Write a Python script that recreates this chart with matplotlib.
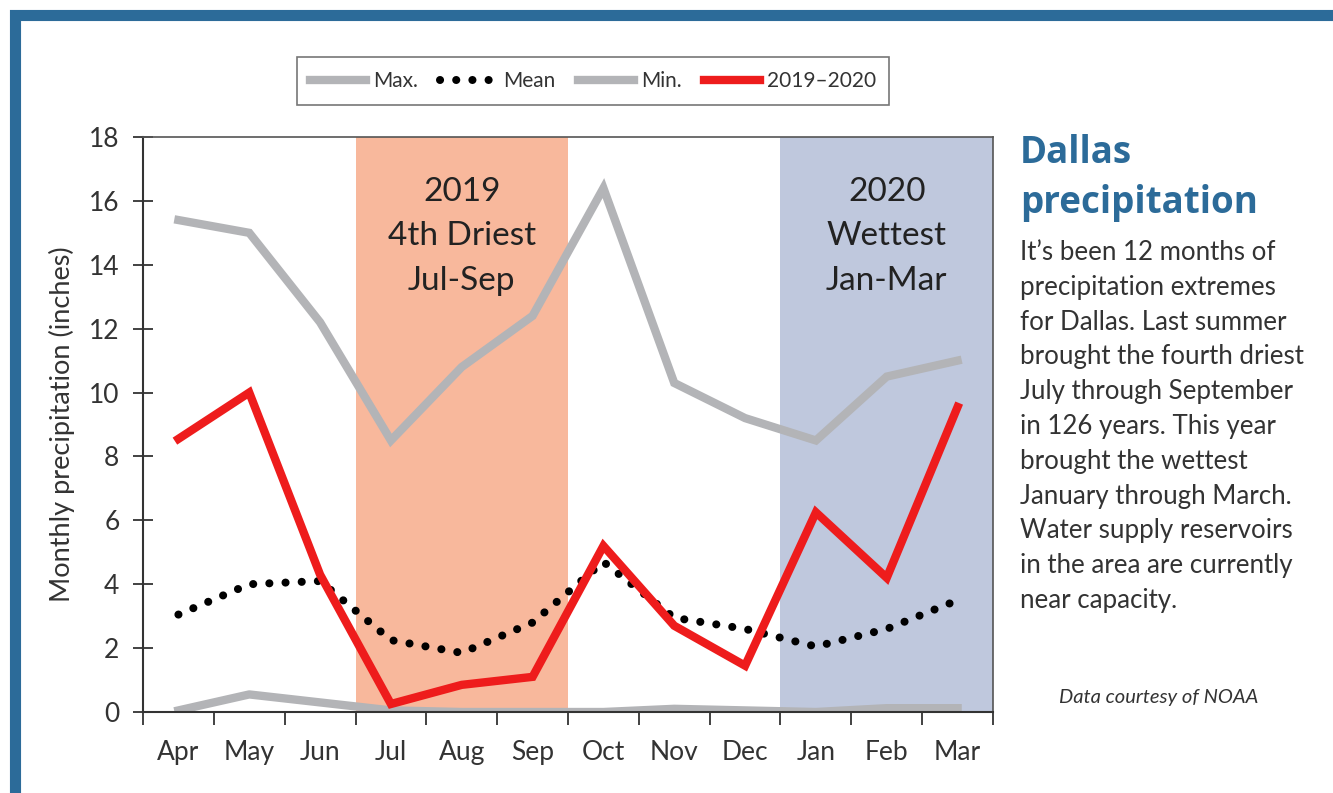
import matplotlib.pyplot as plt
import numpy as np
from matplotlib.patches import Rectangle
from matplotlib.lines import Line2D

# Monthly precipitation values (inches)
months = ["Apr", "May", "Jun", "Jul", "Aug", "Sep", "Oct", "Nov", "Dec", "Jan", "Feb", "Mar"]
max_vals = [15.4, 15.0, 12.2, 8.5, 10.8, 12.4, 16.4, 10.3, 9.2, 8.5, 10.5, 11.0]
mean_vals = [3.05, 4.0, 4.1, 2.25, 1.85, 2.8, 4.7, 2.95, 2.6, 2.05, 2.6, 3.5]
min_vals = [0.05, 0.55, 0.3, 0.05, 0.0, 0.0, 0.0, 0.1, 0.05, 0.0, 0.12, 0.12]
y2019_20 = [8.55, 10.0, 4.3, 0.25, 0.85, 1.1, 5.2, 2.7, 1.45, 6.25, 4.2, 9.55]
yticks = [0, 2, 4, 6, 8, 10, 12, 14, 16, 18]

gray = "#b3b4b7"
red = "#ee1c1c"
blue = "#2c6b99"
txt = "#333333"
dots = (0, (0.01, 2.0))

fig = plt.figure(figsize=(13.33, 7.93), dpi=100)
fig.patch.set_facecolor("white")

# blue frame around the graphic
fig.patches.append(Rectangle((15 / 1333, -0.05), 1.1, 1.05 - 15 / 793, transform=fig.transFigure,
                             fill=False, edgecolor=blue, linewidth=8, zorder=0))

ax = fig.add_axes([143 / 1333, 81 / 793, 850 / 1333, 575 / 793])
x = np.arange(len(months))

# shaded seasons
ax.axvspan(2.5, 5.5, color="#f8b89c", lw=0, zorder=0)
ax.axvspan(8.5, 11.5, color="#bfc8dd", lw=0, zorder=0)
ax.text(4, 16.75, "2019\n4th Driest\nJul-Sep", ha="center", va="top", fontsize=24,
        color="#222222", linespacing=1.6, family="Lato")
ax.text(10, 16.75, "2020\nWettest\nJan-Mar", ha="center", va="top", fontsize=24,
        color="#222222", linespacing=1.6, family="Lato")

ax.plot(x, max_vals, color=gray, lw=6, solid_joinstyle="miter", zorder=2)
ax.plot(x, min_vals, color=gray, lw=6, zorder=2)
ax.plot(x, mean_vals, color="black", lw=5.8, linestyle=dots,
        dash_capstyle="round", zorder=3)
ax.plot(x, y2019_20, color=red, lw=6, solid_joinstyle="miter", zorder=4)

ax.set_xlim(-0.5, 11.5)
ax.set_ylim(0, 18)
ax.set_yticks(yticks)
ax.set_xticks(x)
ax.set_xticklabels(months)
ax.set_xticks(np.arange(-0.5, 12, 1), minor=True)
ax.tick_params(axis="x", which="major", length=0, pad=20, labelsize=19)
ax.tick_params(axis="x", which="minor", length=9, width=1.3, direction="out", color="#333333")
ax.tick_params(axis="y", length=14, width=1.3, direction="inout", pad=10, labelsize=19, color="#333333")
for lab in ax.get_xticklabels() + ax.get_yticklabels():
    lab.set_family("Lato")
    lab.set_color(txt)
for s in ["left", "bottom"]:
    ax.spines[s].set_linewidth(1.5)
    ax.spines[s].set_color("#333333")
for s in ["top", "right"]:
    ax.spines[s].set_linewidth(1.2)
    ax.spines[s].set_color("#555555")
ax.set_ylabel("Monthly precipitation (inches)", fontsize=19.5, family="Lato", color=txt, labelpad=10)

handles = [Line2D([], [], color=gray, lw=6),
           Line2D([], [], color="black", lw=5.8, linestyle=dots, dash_capstyle="round"),
           Line2D([], [], color=gray, lw=6),
           Line2D([], [], color=red, lw=6)]
leg = fig.legend(handles, ["Max.", "Mean", "Min.", "2019\u20132020"], ncol=4,
                 loc="center", bbox_to_anchor=(593 / 1333, 1 - 81 / 793), frameon=True,
                 fancybox=False, edgecolor="#555555", handlelength=2.7,
                 handletextpad=0.3, columnspacing=1.1, borderpad=0.65,
                 prop={"family": "Lato", "size": 15})
leg.get_frame().set_linewidth(1.2)
for t in leg.get_texts():
    t.set_color(txt)

# side story
fig.text(1020 / 1333, 1 - 134 / 793, "Dallas\nprecipitation", ha="left", va="top", fontsize=26.5,
         fontweight="bold", color=blue, family="Open Sans", linespacing=1.4)
body = ("It\u2019s been 12 months of\nprecipitation extremes\nfor Dallas. Last summer\n"
        "brought the fourth driest\nJuly through September\nin 126 years. This year\n"
        "brought the wettest\nJanuary through March.\nWater supply reservoirs\n"
        "in the area are currently\nnear capacity.")
fig.text(1020 / 1333, 1 - 240 / 793, body, ha="left", va="top", fontsize=18.6,
         color=txt, family="Lato", linespacing=1.49)
fig.text(1258 / 1333, 1 - 698 / 793, "Data courtesy of NOAA", ha="right", va="center",
         fontsize=14.5, style="italic", color=txt, family="Lato")

fig.savefig("out.png", dpi=100)
